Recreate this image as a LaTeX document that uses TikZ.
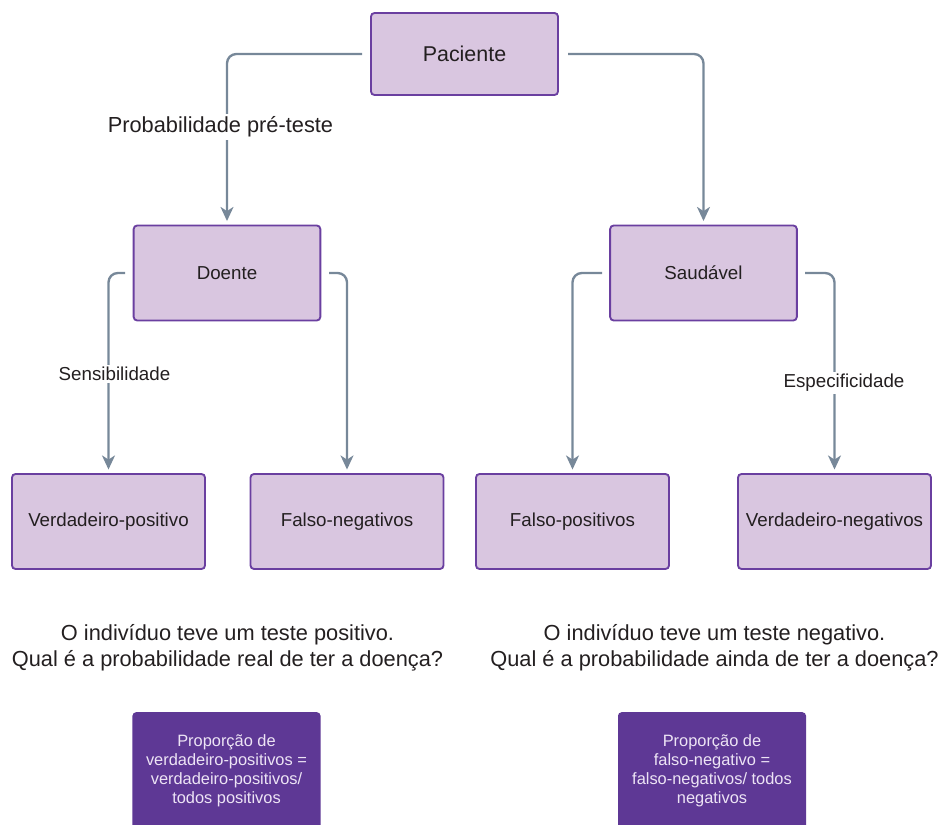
\documentclass[tikz,border=0pt]{standalone}
\usepackage{fontspec}
\setmainfont{Liberation Sans}
\usetikzlibrary{arrows.meta}

\definecolor{boxfill}{HTML}{D9C6E0}
\definecolor{boxline}{HTML}{6A3FA0}
\definecolor{darkfill}{HTML}{5E3895}
\definecolor{darktext}{HTML}{EDE4F5}
\definecolor{linkgray}{HTML}{778899}
\definecolor{ink}{HTML}{231F20}

\tikzset{
  box/.style={draw=boxline, fill=boxfill, line width=1.6pt, rounded corners=3pt,
    text=ink, font=\fontsize{16}{19}\selectfont, minimum width=5.6cm, minimum height=2.85cm},
  darkbox/.style={fill=darkfill, rounded corners=3pt, text=darktext, align=center,
    font=\fontsize{14}{16.2}\selectfont, minimum width=5.64cm, inner ysep=0.66cm, anchor=north},
  link/.style={draw=linkgray, line width=2pt, rounded corners=8pt,
    -{Stealth[length=12pt,width=11pt,inset=3.5pt]}, shorten >=3pt},
  linklabel/.style={fill=white, text=ink, inner sep=2pt},
  question/.style={text=ink, align=center, font=\fontsize{18.6}{22}\selectfont}
}

\begin{document}
\begin{tikzpicture}[x=0.03cm, y=-0.03cm]
  \clip (0,0) rectangle (941,825);

  \node[box, minimum width=5.61cm, minimum height=2.46cm, font=\fontsize{18.3}{21}\selectfont] (pac) at (464.5,54) {Paciente};
  \node[box] (doe) at (227,273) {Doente};
  \node[box] (sau) at (703.5,273) {Saudável};
  \node[box, minimum width=5.79cm] (vp) at (108.5,521.5) {Verdadeiro-positivo};
  \node[box, minimum width=5.79cm] (fn) at (347,521.5) {Falso-negativos};
  \node[box, minimum width=5.79cm] (fp) at (572.5,521.5) {Falso-positivos};
  \node[box, minimum width=5.79cm] (vn) at (834.5,521.5) {Verdadeiro-negativos};

  \coordinate (pacl) at (362,54);
  \coordinate (pacr) at (568,54);
  \coordinate (doel) at (125,273);
  \coordinate (doer) at (329,273);
  \coordinate (saul) at (602,273);
  \coordinate (saur) at (805,273);

  \draw[link] (pacl) -| (doe.north);
  \draw[link] (pacr) -| (sau.north);
  \draw[link] (doel) -| (vp.north);
  \draw[link] (doer) -| (fn.north);
  \draw[link] (saul) -| (fp.north);
  \draw[link] (saur) -| (vn.north);

  \node[linklabel, font=\fontsize{18.6}{22}\selectfont] (pretest) at (220.5,127) {Probabilidade pré-teste};
  \node[linklabel, font=\fontsize{16}{19}\selectfont] (sens) at (114.5,374) {Sensibilidade};
  \node[linklabel, font=\fontsize{16}{19}\selectfont] (spec) at (844,383) {Especificidade};

  \node[question] (qpos) at (227.5,648) {O indivíduo teve um teste positivo.\\Qual é a probabilidade real de ter a doença?};
  \node[question] (qneg) at (714.5,648) {O indivíduo teve um teste negativo.\\Qual é a probabilidade ainda de ter a doença?};

  \node[darkbox] (vpprop) at (226.5,712) {Proporção de\\verdadeiro-positivos =\\verdadeiro-positivos/\\todos positivos};
  \node[darkbox] (fnprop) at (712,712) {Proporção de\\falso-negativo =\\falso-negativos/ todos\\negativos};
\end{tikzpicture}
\end{document}
